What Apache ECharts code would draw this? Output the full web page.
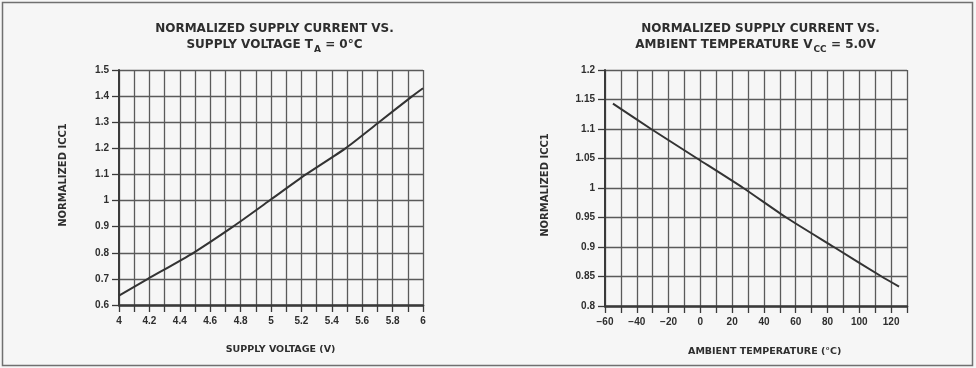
<!DOCTYPE html>
<html>
<head>
<meta charset="utf-8">
<script src="https://cdn.jsdelivr.net/npm/echarts@6/dist/echarts.min.js"></script>
<style>
  html, body { margin: 0; padding: 0; background: #f6f6f6; }
  #chart { width: 976px; height: 368px; }
</style>
</head>
<body>
<div id="chart"></div>
<script>
// ---- Data ----
const voltage = [4.0, 4.19, 4.49, 4.75, 4.99, 5.23, 5.49, 5.71, 5.93, 6.0];
const iccVsVoltage = [0.636, 0.70, 0.80, 0.90, 1.00, 1.10, 1.20, 1.30, 1.40, 1.43];

const temperature = [-55, -31, -2, 27, 54, 84, 114, 125];
const iccVsTemp = [1.143, 1.10, 1.05, 1.00, 0.95, 0.90, 0.85, 0.833];

// ---- Tick labels ----
const voltageTickLabels = ['4', '4.2', '4.4', '4.6', '4.8', '5', '5.2', '5.4', '5.6', '5.8', '6'];
const tempTickLabels = ['−60', '−40', '−20', '0', '20', '40', '60', '80', '100', '120'];

// ---- Texts ----
const leftTitle1 = 'NORMALIZED SUPPLY CURRENT VS.';
const leftTitle2 = ['SUPPLY VOLTAGE T', 'A', ' = 0°C'];
const rightTitle1 = 'NORMALIZED SUPPLY CURRENT VS.';
const rightTitle2 = ['AMBIENT TEMPERATURE V', 'CC', ' = 5.0V'];
const leftXName = 'SUPPLY VOLTAGE (V)';
const rightXName = 'AMBIENT TEMPERATURE (°C)';
const yName = 'NORMALIZED ICC1';

const TXT = '#2e2e2e';
const GRID = '#5a5a5a';
const labelFont = { fontFamily: '"Liberation Sans", Arial, sans-serif', fontWeight: 'bold', fontSize: 10, color: TXT };

function xAxisCommon(extra) {
  return Object.assign({
    type: 'value',
    axisLine: { show: true, onZero: false, lineStyle: { color: '#3a3a3a', width: 2.5 } },
    axisTick: { show: true, inside: false, length: 7, lineStyle: { color: '#3a3a3a', width: 1.3 } },
    splitLine: { show: true, lineStyle: { color: GRID, width: 1.3 } },
    axisLabel: Object.assign({ margin: 11, showMinLabel: true, showMaxLabel: true, hideOverlap: false }, labelFont)
  }, extra);
}
function yAxisCommon(extra) {
  return Object.assign({
    type: 'value',
    axisLine: { show: true, onZero: false, lineStyle: { color: '#3a3a3a', width: 2 } },
    axisTick: { show: true, inside: false, length: 7, lineStyle: { color: '#3a3a3a', width: 1.3 } },
    splitLine: { show: true, lineStyle: { color: GRID, width: 1.3 } },
    axisLabel: Object.assign({ margin: 10, showMinLabel: true, showMaxLabel: true, hideOverlap: false }, labelFont)
  }, extra);
}

const titleFont = { fontFamily: '"DejaVu Sans", sans-serif', fontWeight: 'bold', fontSize: 12 };
const richTitle = {
  m: { fontFamily: '"DejaVu Sans", sans-serif', fontWeight: 'bold', fontSize: 12, lineHeight: 12, verticalAlign: 'top', fill: TXT },
  s: { fontFamily: '"DejaVu Sans", sans-serif', fontWeight: 'bold', fontSize: 9, padding: [7, 0, 0, 1], verticalAlign: 'top', fill: TXT }
};
function titleLine2(parts) {
  return '{m|' + parts[0] + '}{s|' + parts[1] + '}{m|' + parts[2] + '}';
}
const nameFont = { fontFamily: '"DejaVu Sans", sans-serif', fontWeight: 'bold', fontSize: 9.5 };

const option = {
  animation: false,
  backgroundColor: '#f6f6f6',
  grid: [
    { left: 119, top: 70, width: 304, height: 235 },
    { left: 605, top: 70, width: 302, height: 236 }
  ],
  xAxis: [
    xAxisCommon({
      gridIndex: 0, min: 4, max: 6, interval: 0.1,
      axisLabel: Object.assign({}, xAxisCommon({}).axisLabel, {
        formatter: function (v) {
          const s = String(+v.toFixed(2));
          return voltageTickLabels.indexOf(s) >= 0 ? s : '';
        }
      })
    }),
    xAxisCommon({
      gridIndex: 1, min: -60, max: 130, interval: 10,
      axisLabel: Object.assign({}, xAxisCommon({}).axisLabel, {
        formatter: function (v) {
          const s = String(Math.round(v)).replace('-', '−');
          return tempTickLabels.indexOf(s) >= 0 ? s : '';
        }
      })
    })
  ],
  yAxis: [
    yAxisCommon({ gridIndex: 0, min: 0.6, max: 1.5, interval: 0.1 }),
    yAxisCommon({ gridIndex: 1, min: 0.8, max: 1.2, interval: 0.05 })
  ],
  series: [
    {
      type: 'line', xAxisIndex: 0, yAxisIndex: 0,
      data: voltage.map((v, i) => [v, iccVsVoltage[i]]),
      showSymbol: false, smooth: 0.2,
      lineStyle: { color: '#333', width: 2 }
    },
    {
      type: 'line', xAxisIndex: 1, yAxisIndex: 1,
      data: temperature.map((v, i) => [v, iccVsTemp[i]]),
      showSymbol: false, smooth: 0.2,
      lineStyle: { color: '#333', width: 2 }
    }
  ],
  graphic: [
    { type: 'rect', silent: true, shape: { x: 2.5, y: 2.5, width: 970, height: 363 },
      style: { fill: 'none', stroke: '#707070', lineWidth: 1.5 } },
    // left titles
    { type: 'text', x: 274.5, y: 29, style: Object.assign({ text: leftTitle1, fill: TXT, align: 'center', verticalAlign: 'middle' }, titleFont) },
    { type: 'text', x: 274.5, y: 38.5, style: { text: titleLine2(leftTitle2), rich: richTitle, align: 'center', verticalAlign: 'top', fill: TXT } },
    // right titles
    { type: 'text', x: 760.5, y: 29, style: Object.assign({ text: rightTitle1, fill: TXT, align: 'center', verticalAlign: 'middle' }, titleFont) },
    { type: 'text', x: 755.5, y: 38.5, style: { text: titleLine2(rightTitle2), rich: richTitle, align: 'center', verticalAlign: 'top', fill: TXT } },
    // x axis names
    { type: 'text', x: 280.5, y: 350, style: Object.assign({ text: leftXName, fill: TXT, align: 'center', verticalAlign: 'middle' }, nameFont) },
    { type: 'text', x: 764.7, y: 352, style: Object.assign({ text: rightXName, fill: TXT, align: 'center', verticalAlign: 'middle' }, nameFont) },
    // y axis names
    { type: 'text', x: 63, y: 175, rotation: Math.PI / 2, style: Object.assign({ text: yName, fill: TXT, align: 'center', verticalAlign: 'middle' }, nameFont, { fontSize: 10 }) },
    { type: 'text', x: 545, y: 185, rotation: Math.PI / 2, style: Object.assign({ text: yName, fill: TXT, align: 'center', verticalAlign: 'middle' }, nameFont, { fontSize: 10 }) }
  ]
};

const chart = echarts.init(document.getElementById('chart'), null, { renderer: 'canvas' });
chart.setOption(option);
</script>
</body>
</html>
